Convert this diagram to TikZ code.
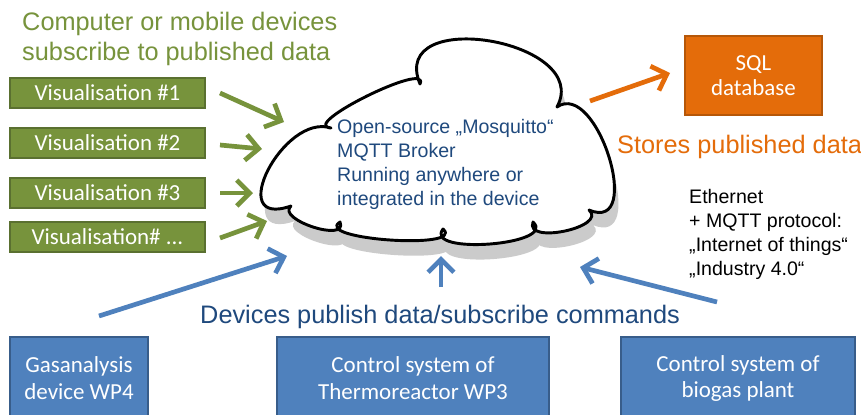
\documentclass[tikz,border=0pt]{standalone}
\usepackage{fontspec}
\setmainfont{Liberation Sans}
\newfontfamily\calibfont{Carlito}
\usetikzlibrary{arrows.meta,calc}
\definecolor{vgreen}{HTML}{77933C}
\definecolor{vgreendark}{HTML}{5A7030}
\definecolor{sqlorange}{HTML}{E46C0A}
\definecolor{sqlorangedark}{HTML}{B65708}
\definecolor{boxblue}{HTML}{4F81BD}
\definecolor{boxbluedark}{HTML}{385D8A}
\definecolor{textblue}{HTML}{1F497D}
\definecolor{shadowgray}{HTML}{CBCBCB}
\tikzset{
  cloudbump/.style n args={3}{insert path={.. controls ($0.5833*(#1)+1.3333*(#2)-0.9166*(#3)$) and ($0.5833*(#3)+1.3333*(#2)-0.9166*(#1)$) .. (#3)}},
  cloudpath/.style={insert path={(P1) [cloudbump={P1}{M1}{P2}] [cloudbump={P2}{M2}{P3}] [cloudbump={P3}{M3}{P4}] [cloudbump={P4}{M4}{P5}] [cloudbump={P5}{M5}{P6}] [cloudbump={P6}{M6}{P7}] [cloudbump={P7}{M7}{P8}] [cloudbump={P8}{M8}{P1}] -- cycle}},
  visbox/.style={draw=vgreendark, line width=1pt, fill=vgreen, text=white, font=\calibfont\fontsize{19.6pt}{23pt}\selectfont, minimum width=5.85cm, minimum height=0.9cm, inner sep=0pt},
  sqlbox/.style={draw=sqlorangedark, line width=1pt, fill=sqlorange, text=white, align=center, font=\calibfont\fontsize{19.6pt}{21.5pt}\selectfont, minimum width=4.11cm, minimum height=2.37cm, inner sep=0pt},
  devbox/.style={draw=boxbluedark, line width=1pt, fill=boxblue, text=white, align=center, font=\calibfont\fontsize{19.6pt}{23pt}\selectfont, minimum height=2.49cm, inner sep=0pt},
  bigtext/.style={font=\fontsize{21.6pt}{25.6pt}\selectfont, inner sep=0pt},
  smalltext/.style={font=\fontsize{16.7pt}{20.5pt}\selectfont, inner sep=0pt, align=left},
  arr/.style={line width=4pt, -{Straight Barb[length=11pt,width=22pt]}},
  garrow/.style={arr, draw=vgreen},
  barrow/.style={arr, draw=boxblue},
  oarrow/.style={arr, draw=sqlorange},
}
\begin{document}
\begin{tikzpicture}[x=0.03cm,y=-0.03cm]
\path[use as bounding box] (0,0) rectangle (861,414);
\clip (0,0) rectangle (861,414);
\fill[white] (0,0) rectangle (861,414);

% cloud geometry
\coordinate (P1) at (331,128);
\coordinate (P2) at (420,84);
\coordinate (P3) at (557,107);
\coordinate (P4) at (589,210);
\coordinate (P5) at (533,222);
\coordinate (P6) at (443,229);
\coordinate (P7) at (340,222);
\coordinate (P8) at (291,206);
\coordinate (M1) at (367,96);
\coordinate (M2) at (490,41);
\coordinate (M3) at (609,157);
\coordinate (M4) at (565,231);
\coordinate (M5) at (490,244);
\coordinate (M6) at (390,240);
\coordinate (M7) at (313,227);
\coordinate (M8) at (268,170);

\begin{scope}[transform canvas={shift={(4,15)}}]
\fill[shadowgray] [cloudpath];
\end{scope}
\path[fill=white, draw=black, line width=2.5pt, line join=round] [cloudpath];

\node[smalltext, text=textblue, anchor=north west] (broker) at (337,119)
  {Open-source „Mosquitto“\\MQTT Broker\\Running anywhere or\\integrated in the device};

% title
\node[bigtext, text=vgreen, anchor=north west, align=left] (title) at (22,12)
  {Computer or mobile devices\\subscribe to published data};

% visualisation boxes
\node[visbox] (v1) at (107.5,93) {Visualisation \#1};
\node[visbox] (v2) at (107.5,143) {Visualisation \#2};
\node[visbox] (v3) at (107.5,193) {Visualisation \#3};
\node[visbox] (v4) at (107.5,237) {Visualisation\# ...};

% SQL
\node[sqlbox] (sql) at (753.5,75.5) {SQL\\database};
\node[bigtext, text=sqlorange, anchor=base west] (stores) at (617,153) {Stores published data};

% Ethernet text
\node[smalltext, text=black, anchor=north west] (eth) at (689,189)
  {Ethernet\\+ MQTT protocol:\\„Internet of things“\\„Industry 4.0“};

% devices text
\node[bigtext, text=textblue, anchor=base west] (devices) at (200,323) {Devices publish data/subscribe commands};

% bottom boxes
\node[devbox, minimum width=4.14cm] (gas) at (79,378.5) {Gasanalysis\\device WP4};
\node[devbox, minimum width=8.16cm] (thermo) at (413,378.5) {Control system of\\Thermoreactor WP3};
\node[devbox, minimum width=7.02cm] (biogas) at (738,378.5) {Control system of\\biogas plant};

% arrow endpoints
\coordinate (ga1s) at (220,93);  \coordinate (ga1e) at (284,122);
\coordinate (ga2s) at (220,145); \coordinate (ga2e) at (262,149);
\coordinate (ga3s) at (220,193); \coordinate (ga3e) at (253,193);
\coordinate (ga4s) at (220,238); \coordinate (ga4e) at (267,221);
\coordinate (oas) at (590,101);  \coordinate (oae) at (670,73);
\coordinate (ba1s) at (99,316);  \coordinate (ba1e) at (287,256);
\coordinate (ba2s) at (441,287); \coordinate (ba2e) at (441,256);
\coordinate (ba3s) at (717,302); \coordinate (ba3e) at (580,267);

\draw[garrow] (ga1s) -- (ga1e);
\draw[garrow] (ga2s) -- (ga2e);
\draw[garrow] (ga3s) -- (ga3e);
\draw[garrow] (ga4s) -- (ga4e);
\draw[oarrow] (oas) -- (oae);
\draw[barrow] (ba1s) -- (ba1e);
\draw[barrow] (ba2s) -- (ba2e);
\draw[barrow] (ba3s) -- (ba3e);
\end{tikzpicture}
\end{document}
